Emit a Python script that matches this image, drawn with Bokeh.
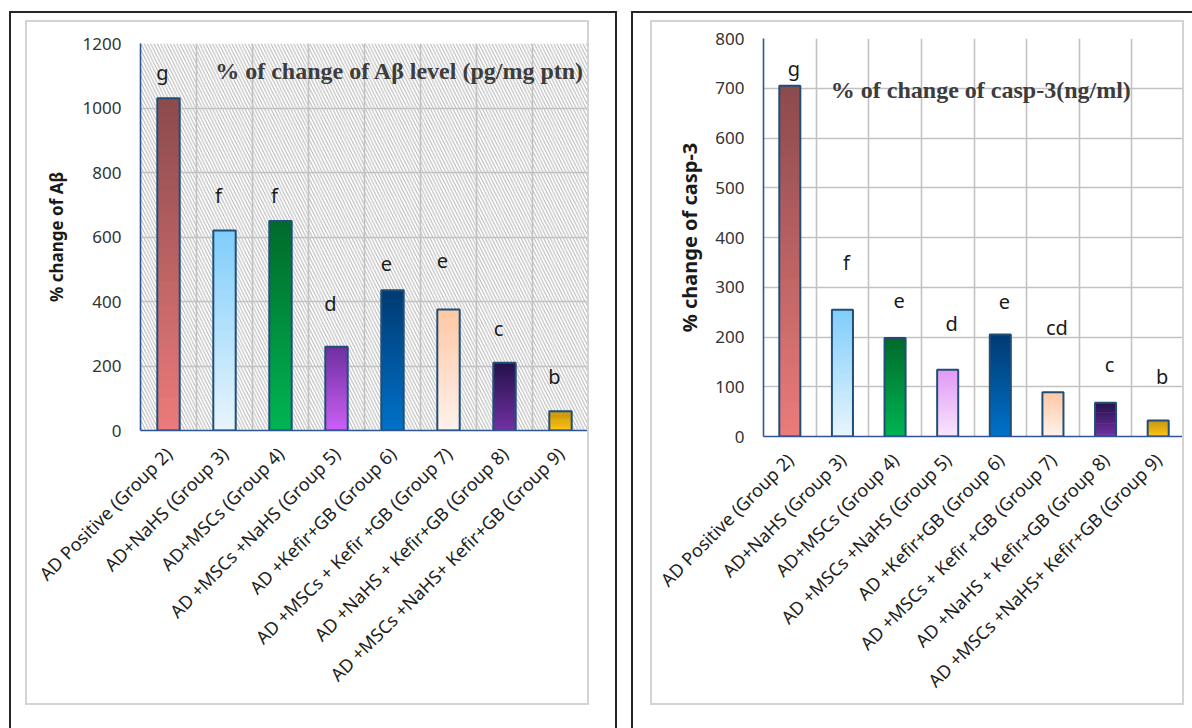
import numpy as np
from bokeh.plotting import figure
from bokeh.models import FixedTicker, BoxAnnotation, Label, Range1d
from bokeh.layouts import row, column
from bokeh.embed import file_html
from bokeh.resources import INLINE
from bokeh.core.properties import value

# ---- data ----
groups = [
    "AD Positive (Group 2)",
    "AD+NaHS (Group 3)",
    "AD+MSCs (Group 4)",
    "AD +MSCs +NaHS (Group 5)",
    "AD +Kefir+GB (Group 6)",
    "AD +MSCs + Kefir +GB (Group 7)",
    "AD +NaHS + Kefir+GB (Group 8)",
    "AD +MSCs +NaHS+ Kefir+GB (Group 9)",
]

abeta_change = [1030, 620, 650, 260, 435, 375, 210, 60]
abeta_letters = ["g", "f", "f", "d", "e", "e", "c", "b"]
abeta_letter_y = [1110, 730, 730, 395, 517, 527, 317, 166]

casp3_change = [705, 255, 198, 134, 205, 89, 68, 32]
casp3_letters = ["g", "f", "e", "d", "e", "cd", "c", "b"]
casp3_letter_y = [739, 350, 273, 227, 271, 219, 144, 121]

abeta_ticks = [0, 200, 400, 600, 800, 1000, 1200]
casp3_ticks = [0, 100, 200, 300, 400, 500, 600, 700, 800]

# (top colour, bottom colour) of each bar's vertical gradient
abeta_colors = [
    ("#8b4a4c", "#ec7b7b"),
    ("#7fcdfb", "#e8f5fd"),
    ("#006a2b", "#00b552"),
    ("#6e2f9e", "#cd5ff7"),
    ("#003a72", "#0072c9"),
    ("#ffc7a4", "#fff2ec"),
    ("#23124a", "#7331a3"),
    ("#c48e00", "#ffc20a"),
]
casp3_colors = list(abeta_colors)
casp3_colors[3] = ("#e199f6", "#f8e6fc")

FONT = "Noto Sans"
AXIS_BLUE = "#2f5597"
BAR_EDGE = "#1f4e79"


def hex_to_rgb(h):
    h = h.lstrip("#")
    return np.array([int(h[i:i + 2], 16) for i in (0, 2, 4)], dtype=float)


def blend(c_top, c_bot, t):
    a, b = hex_to_rgb(c_top), hex_to_rgb(c_bot)
    c = b + (a - b) * t
    return "#%02x%02x%02x" % tuple(int(round(v)) for v in c)


def gradient_bars(p, vals, colors, width, steps=40):
    # each bar is filled with stacked slices, bottom to top; every slice
    # reaches a little into the next one so no seams show between them
    lefts, rights, bots, tops, fills = [], [], [], [], []
    for i, (v, (ct, cb)) in enumerate(zip(vals, colors)):
        for k in range(steps):
            lefts.append(i - width / 2)
            rights.append(i + width / 2)
            bots.append(v * k / steps)
            tops.append(min(v, v * (k + 1.8) / steps))
            fills.append(blend(ct, cb, (k + 0.5) / steps))
    p.quad(left=lefts, right=rights, bottom=bots, top=tops,
           fill_color=fills, line_color=None)
    p.vbar(x=list(range(len(vals))), top=vals, width=width,
           fill_color=None, line_color=BAR_EDGE, line_width=2)


def make_panel(vals, colors, letters, letter_y, ticks, ymax, ylabel,
               label_size, label_standoff, title, title_xy, frame_w, frame_h,
               mb, letter_dx, hatched):
    p = figure(
        x_range=Range1d(-0.5, len(vals) - 0.5),
        y_range=Range1d(0, ymax),
        frame_width=frame_w, frame_height=frame_h,
        min_border_left=mb[0], min_border_right=mb[1],
        min_border_top=mb[2], min_border_bottom=mb[3],
        output_backend="svg", toolbar_location=None,
        background_fill_color="white", border_fill_color="white",
        outline_line_color=None,
        styles={"border": "2px solid #d3d3d3"},
    )

    if hatched:
        p.add_layout(BoxAnnotation(
            fill_alpha=0, line_color=None,
            hatch_pattern="\\", hatch_color="#b4b4b4",
            hatch_scale=6.5, hatch_weight=1, level="image"))

    # grid: horizontal at y ticks, vertical at category boundaries
    p.ygrid.ticker = FixedTicker(ticks=ticks)
    p.xgrid.ticker = FixedTicker(ticks=[i - 0.5 for i in range(len(vals) + 1)])
    for g in (p.xgrid, p.ygrid):
        g.grid_line_color = "#c2c2c2"
        g.grid_line_width = 1.6

    gradient_bars(p, vals, colors, 0.40)

    p.text(x=list(range(len(vals))), y=letter_y, text=letters,
           text_align="center", text_baseline="middle",
           text_font=value(FONT), text_font_size="20px",
           text_color="#1a1a1a", x_offset=letter_dx)

    p.add_layout(Label(
        x=title_xy[0], y=title_xy[1], text=title,
        text_align="center", text_baseline="middle",
        text_font="Liberation Serif", text_font_style="bold",
        text_font_size="24px", text_color="#3c3c3c"))

    # axes
    p.xaxis.ticker = FixedTicker(ticks=list(range(len(vals))))
    p.xaxis.major_label_overrides = {i: g for i, g in enumerate(groups)}
    p.xaxis.major_label_orientation = np.pi / 4
    p.xaxis.major_label_text_font = FONT
    p.xaxis.major_label_text_font_size = "18px"
    p.xaxis.major_label_text_color = "#222222"
    p.xaxis.major_label_standoff = 20

    p.yaxis.ticker = FixedTicker(ticks=ticks)
    p.yaxis.major_label_text_font = FONT
    p.yaxis.major_label_text_font_size = "17px"
    p.yaxis.major_label_text_color = "#333333"
    p.yaxis.major_label_standoff = 19
    p.yaxis.axis_label = ylabel
    p.yaxis.axis_label_text_font = FONT
    p.yaxis.axis_label_text_font_style = "bold"
    p.yaxis.axis_label_text_font_size = label_size
    p.yaxis.axis_label_text_color = "#1a1a1a"
    p.yaxis.axis_label_standoff = label_standoff

    for ax in (p.xaxis, p.yaxis):
        ax.axis_line_color = AXIS_BLUE
        ax.axis_line_width = 1.6
        ax.major_tick_line_color = None
        ax.minor_tick_line_color = None
        ax.major_tick_out = 0
        ax.major_tick_in = 0
    return p


p_abeta = make_panel(
    abeta_change, abeta_colors, abeta_letters, abeta_letter_y, abeta_ticks,
    1200, "% change of Aβ", "17px", 12,
    "% of change of Aβ level (pg/mg ptn)", (4.13, 1116),
    444, 383, (113, 3, 21, 277), -6, True)

p_casp3 = make_panel(
    casp3_change, casp3_colors, casp3_letters, casp3_letter_y, casp3_ticks,
    800, "% change of casp-3", "20px", 9,
    "% of change of casp-3(ng/ml)", (3.63, 696),
    417, 394, (111, 2, 16, 271), 4, False)

left_box = column(p_abeta, margin=(11, 0, 0, 9),
                  styles={"border": "2px solid #262626",
                          "padding": "7px 26px 40px 14px"})
right_box = column(p_casp3, margin=(11, 0, 0, 14),
                   styles={"border": "2px solid #262626",
                           "padding": "7px 26px 40px 17px"})

layout = row(left_box, right_box)

open("out.html", "w").write(file_html(layout, INLINE))
